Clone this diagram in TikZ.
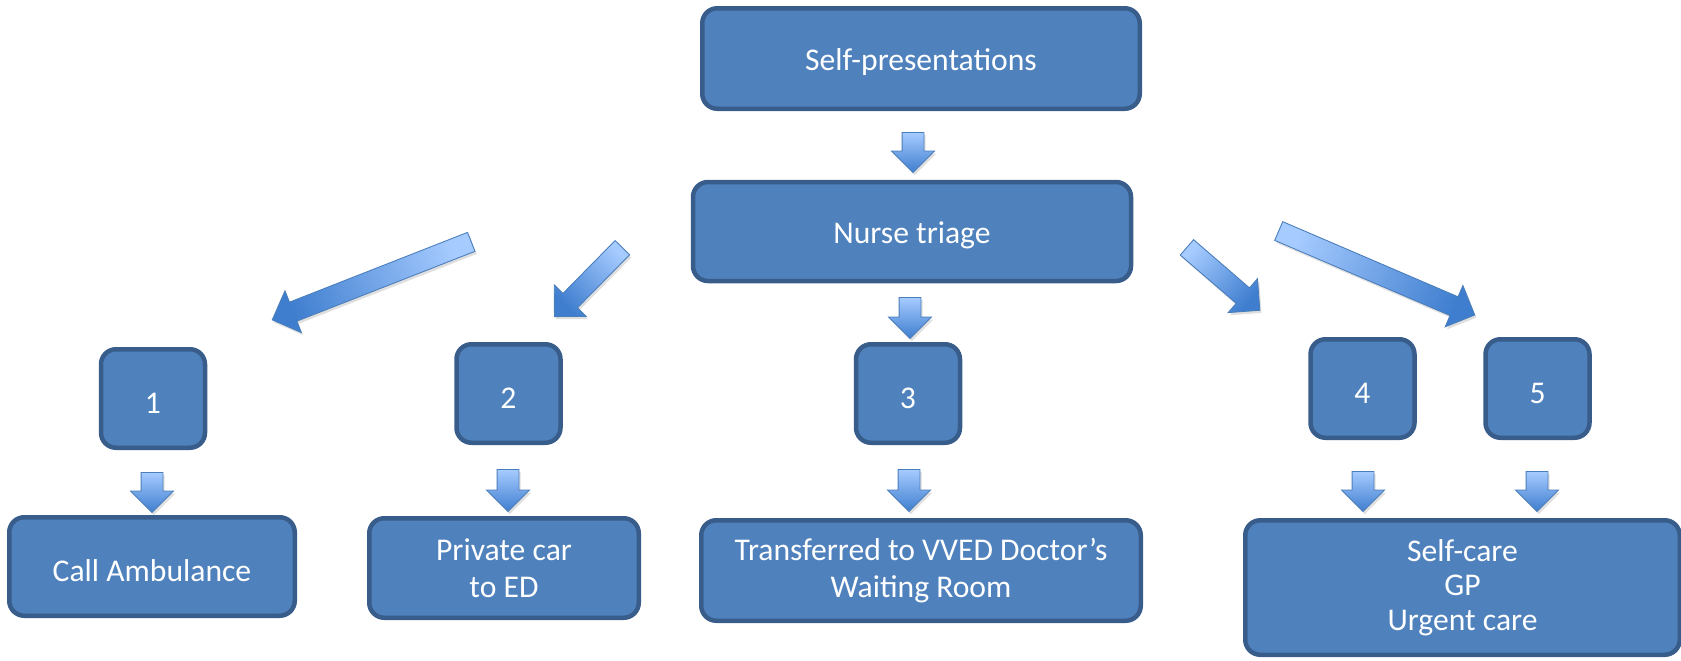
\documentclass[tikz,border=0pt]{standalone}
\usepackage{fontspec}
\setmainfont{Carlito}
\usetikzlibrary{shapes.arrows,shadows,calc}
\definecolor{boxfill}{HTML}{4F81BD}
\definecolor{boxline}{HTML}{385D8A}
\definecolor{arrlight}{HTML}{A6CBFF}
\definecolor{arrdark}{HTML}{3F7ECF}
\definecolor{arrline}{HTML}{4A7EBB}
\def\px{0.02cm}
\tikzset{
  stage/.style={rectangle, rounded corners=15*\px, draw=boxline, line width=4.5*\px, fill=boxfill,
    text=white, align=center, inner sep=0pt, font=\fontsize{18}{21}\selectfont,
    execute at begin node={\rule{0pt}{0.95em}}},
  multi/.style={execute at begin node={\rule{0pt}{1.25em}}},
  num/.style={stage, minimum width=104*\px, minimum height=98.5*\px},
  flow/.style={single arrow, draw=arrline, line width=0.5pt, top color=arrlight, bottom color=arrdark,
    inner xsep=0pt, single arrow tip angle=90,
    drop shadow={opacity=0.25, shadow xshift=1pt, shadow yshift=-1.5pt}}
}
% block arrow from tail to tip: name, tail, tip, shaft width, head width
\newcommand\flowarrow[5]{%
  \path let \p1=($(#3)-(#2)$), \n1={atan2(\y1,\x1)}, \n2={veclen(\x1,\y1)} in
    node[flow, shading angle=\n1+90, minimum height=\n2, inner ysep=#4/2*\px,
      single arrow head extend=(#5-#4)/2*\px, rotate=\n1] (#1) at ($(#2)!0.5!(#3)$) {};}

\begin{document}
\begin{tikzpicture}[x=\px, y=-\px]
  \useasboundingbox (0,0) rectangle (1681,660);

  % Top
  \node[stage, minimum width=437.5*\px, minimum height=100.5*\px] (self) at (921,58.5) {Self-presentations};
  \node[stage, minimum width=438*\px, minimum height=99*\px] (nurse) at (912,231.5) {Nurse triage};

  % Numbered options
  \node[num] (n1) at (153,398.5) {1};
  \node[num] (n2) at (508.5,393.5) {2};
  \node[num] (n3) at (908,393.5) {3};
  \node[num] (n4) at (1362.5,388.5) {4};
  \node[num] (n5) at (1537.5,388.5) {5};

  % Outcomes
  \node[stage, minimum width=285.5*\px, minimum height=98.5*\px] (call) at (152,566.5) {Call Ambulance};
  \node[stage, multi, minimum width=269.5*\px, minimum height=99.5*\px] (car) at (504,568) {Private car\\to ED};
  \node[stage, multi, minimum width=439.5*\px, minimum height=100.5*\px] (transf) at (921,570.5) {Transferred to VVED Doctor’s\\Waiting Room};
  \node[stage, multi, minimum width=434.5*\px, minimum height=134.5*\px, font=\fontsize{18}{19.5}\selectfont] (care) at (1462.5,587.5) {Self-care\\GP\\Urgent care};

  % Arrow ends
  \coordinate (s0) at (913,127);  \coordinate (e0) at (913,167);
  \coordinate (s1) at (910,292);  \coordinate (e1) at (910,333);
  \coordinate (s2) at (152,467);  \coordinate (e2) at (152,507);
  \coordinate (s3) at (508,464);  \coordinate (e3) at (508,506);
  \coordinate (s4) at (909,464);  \coordinate (e4) at (909,506);
  \coordinate (s5) at (1363,466); \coordinate (e5) at (1363,506);
  \coordinate (s6) at (1537,466); \coordinate (e6) at (1537,506);
  \coordinate (d1s) at (476,240);  \coordinate (d1e) at (277,318);
  \coordinate (d2s) at (626,244);  \coordinate (d2e) at (558,313);
  \coordinate (d3s) at (1183,244); \coordinate (d3e) at (1256,307);
  \coordinate (d4s) at (1274,229); \coordinate (d4e) at (1470,313);

  % Down arrows
  \foreach \i in {0,...,6}{
    \flowarrow{ar\i}{s\i}{e\i}{21}{42}
  }
  % Diagonal arrows
  \foreach \i in {1,...,4}{
    \flowarrow{dg\i}{d\i s}{d\i e}{19.5}{44}
  }
\end{tikzpicture}
\end{document}
